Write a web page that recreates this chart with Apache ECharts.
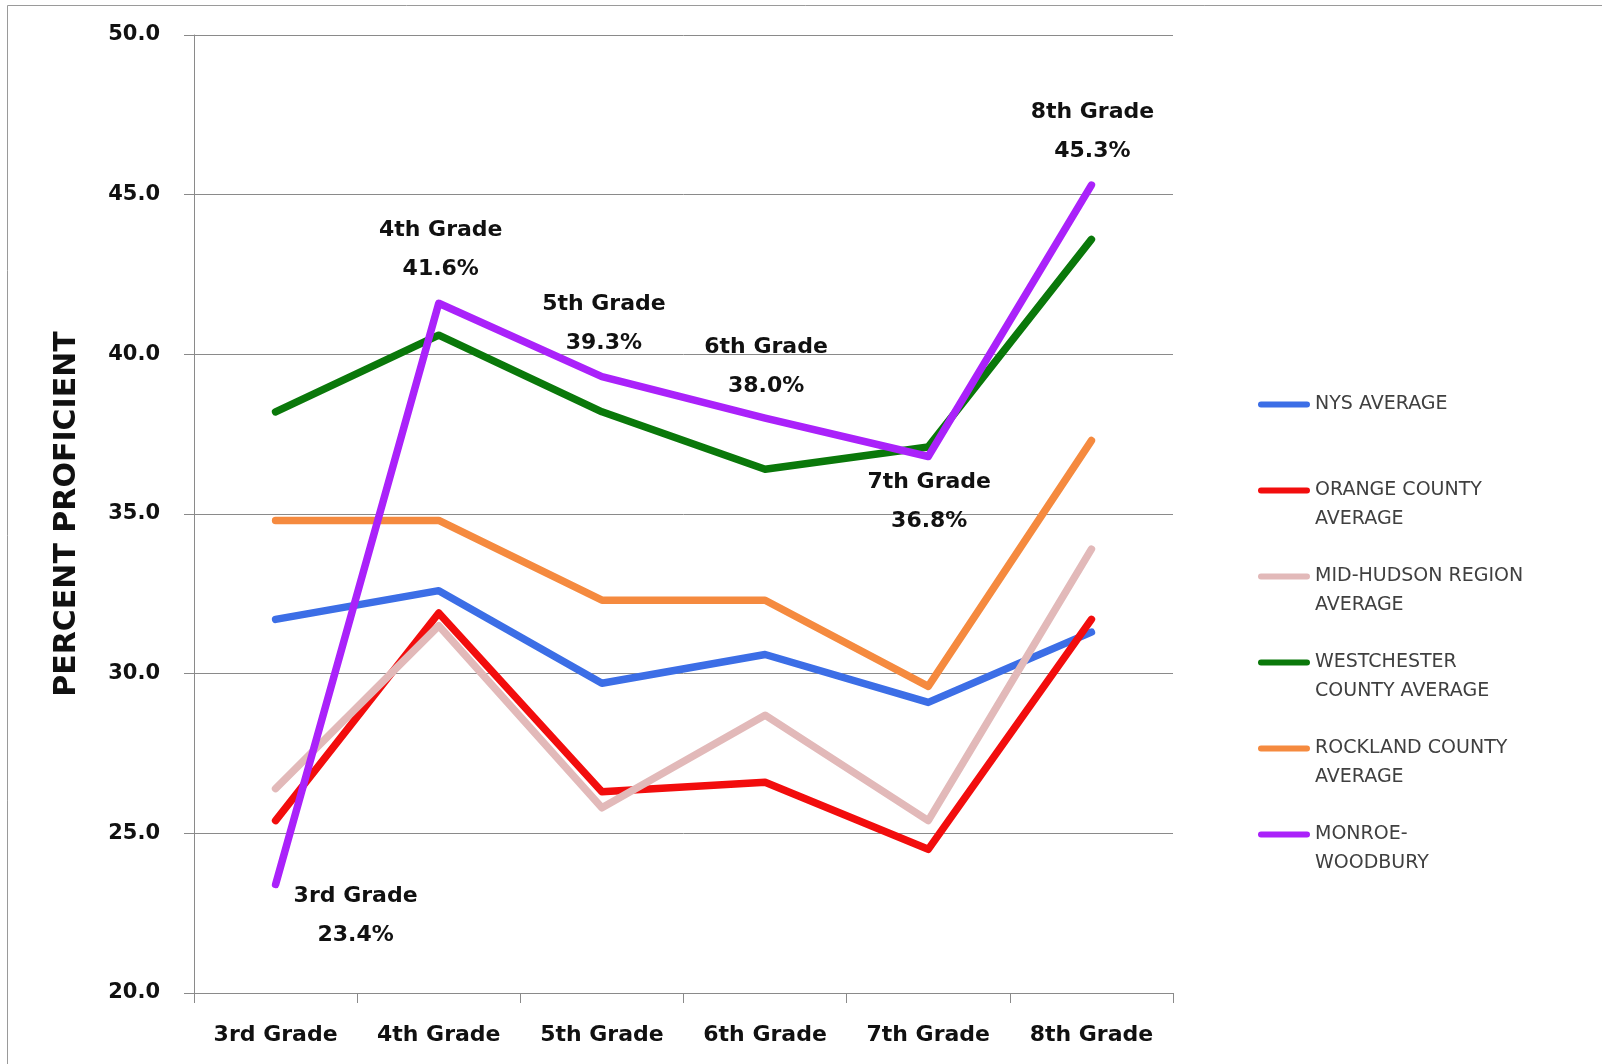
<!DOCTYPE html>
<html>
<head>
<meta charset="utf-8">
<script src="https://cdn.jsdelivr.net/npm/echarts@6/dist/echarts.min.js"></script>
<style>
    html, body { margin: 0; padding: 0; background: #fff; }
    #chart { width: 1602px; height: 1064px; }
</style>
</head>
<body>
<div id="chart"></div>
<script>
    // grades on the x axis
    var grades = ['3rd Grade', '4th Grade', '5th Grade', '6th Grade', '7th Grade', '8th Grade'];

    // percent proficient
    var nysAverage = [31.7, 32.6, 29.7, 30.6, 29.1, 31.3];
    var orangeCounty = [25.4, 31.9, 26.3, 26.6, 24.5, 31.7];
    var midHudson = [26.4, 31.5, 25.8, 28.7, 25.4, 33.9];
    var westchester = [38.2, 40.6, 38.2, 36.4, 37.1, 43.6];
    var rockland = [34.8, 34.8, 32.3, 32.3, 29.6, 37.3];
    var monroeWoodbury = [23.4, 41.6, 39.3, 38.0, 36.8, 45.3];

    var yTicks = [20, 25, 30, 35, 40, 45, 50];

    var seriesNames = ['NYS AVERAGE', 'ORANGE COUNTY AVERAGE', 'MID-HUDSON REGION AVERAGE',
        'WESTCHESTER COUNTY AVERAGE', 'ROCKLAND COUNTY AVERAGE', 'MONROE-WOODBURY'];
    // how the legend wraps each name
    var legendText = {
        'NYS AVERAGE': 'NYS AVERAGE\n ',
        'ORANGE COUNTY AVERAGE': 'ORANGE COUNTY\nAVERAGE',
        'MID-HUDSON REGION AVERAGE': 'MID-HUDSON REGION\nAVERAGE',
        'WESTCHESTER COUNTY AVERAGE': 'WESTCHESTER\nCOUNTY AVERAGE',
        'ROCKLAND COUNTY AVERAGE': 'ROCKLAND COUNTY\nAVERAGE',
        'MONROE-WOODBURY': 'MONROE-\nWOODBURY'
    };
    var colors = ['#3c6ee6', '#f20d0d', '#e2b9b9', '#0a780a', '#f58a3f', '#aa22fa'];

    // where the Monroe-Woodbury labels sit relative to each point
    var labelOffsets = [[80, 31], [2, -53], [2, -53], [1, -51], [1, 45], [1, -53]];

    var font = 'DejaVu Sans';
    var chart = echarts.init(document.getElementById('chart'));

    var allData = [nysAverage, orangeCounty, midHudson, westchester, rockland, monroeWoodbury];
    var series = allData.map(function (values, i) {
        var s = {
            name: seriesNames[i],
            type: 'line',
            data: values,
            symbol: 'circle',
            symbolSize: 2,
            lineStyle: {color: colors[i], width: 7.5, cap: 'round', join: 'round'},
            itemStyle: {color: colors[i]},
            z: 2 + i,
            animation: false
        };
        if (i === 5) {
            s.data = values.map(function (v, k) {
                return {
                    value: v,
                    label: {
                        show: true,
                        position: 'inside',
                        offset: labelOffsets[k],
                        formatter: function (p) {
                            return p.name + '\n' + p.value.toFixed(1) + '%';
                        },
                        fontFamily: font,
                        fontWeight: 'bold',
                        fontSize: 22,
                        lineHeight: 39,
                        color: '#111'
                    }
                };
            });
        }
        return s;
    });

    chart.setOption({
        backgroundColor: '#fff',
        animation: false,
        graphic: [{
            type: 'rect',
            shape: {x: 7.5, y: 5.5, width: 1700, height: 1200},
            style: {fill: 'none', stroke: '#9a9a9a', lineWidth: 1},
            silent: true
        }],
        grid: {left: 194, right: 429, top: 35, bottom: 71},
        legend: {
            orient: 'vertical',
            left: 1253,
            top: 385,
            itemWidth: 52,
            itemHeight: 58,
            itemGap: 28,
            icon: 'path://M3,11.5 L49,11.5 A3,3 0 0 1 49,17.5 L3,17.5 A3,3 0 0 1 3,11.5 Z M0,0 L0.01,0 L0.01,0.01 Z M0,58 L0.01,58 L0.01,57.99 Z',
            data: seriesNames,
            formatter: function (name) { return legendText[name]; },
            textStyle: {fontFamily: font, fontSize: 19, lineHeight: 29, color: '#404040'}
        },
        xAxis: {
            type: 'category',
            data: grades,
            boundaryGap: true,
            axisLine: {lineStyle: {color: '#8a8a8a', width: 1}},
            axisTick: {show: true, length: 10, lineStyle: {color: '#8a8a8a'}},
            axisLabel: {fontFamily: font, fontWeight: 'bold', fontSize: 22, color: '#111', margin: 31}
        },
        yAxis: {
            type: 'value',
            min: yTicks[0],
            max: yTicks[yTicks.length - 1],
            interval: 5,
            name: 'PERCENT PROFICIENT',
            nameLocation: 'middle',
            nameGap: 112,
            nameTextStyle: {fontFamily: font, fontWeight: 'bold', fontSize: 30, color: '#111'},
            axisLine: {show: true, lineStyle: {color: '#8a8a8a', width: 1}},
            axisTick: {show: true, length: 10, lineStyle: {color: '#8a8a8a'}},
            splitLine: {lineStyle: {color: '#8a8a8a', width: 1}},
            axisLabel: {
                fontFamily: font, fontWeight: 'bold', fontSize: 21, color: '#111', margin: 34,
                formatter: function (v) { return v.toFixed(1); }
            }
        },
        series: series
    });
</script>
</body>
</html>
